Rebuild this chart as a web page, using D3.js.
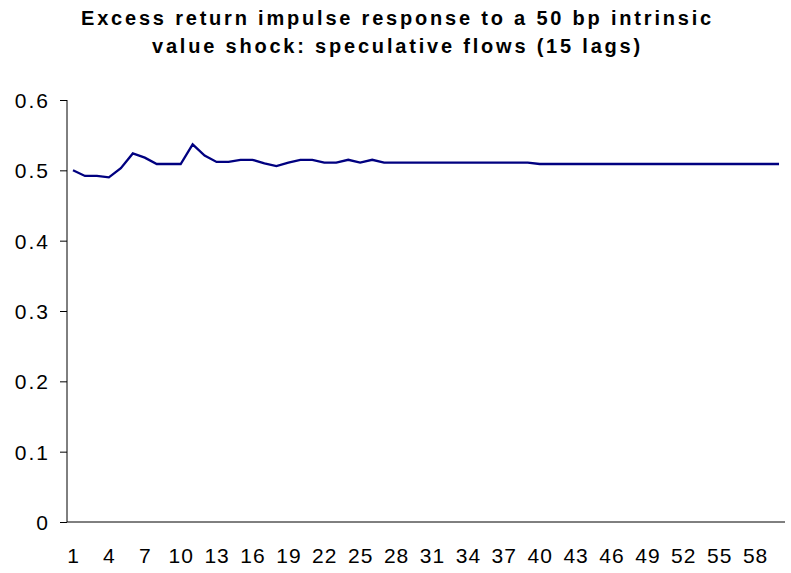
<!DOCTYPE html>
<html>
<head>
<meta charset="utf-8">
<script src="https://cdn.jsdelivr.net/npm/d3@7"></script>
<style>
  body { margin: 0; background: #fff; }
  svg { display: block; font-family: "Liberation Sans", Arial, sans-serif; }
</style>
</head>
<body>
<div id="chart"></div>
<script>
// periods 1..60
var periods = d3.range(1, 61);

// excess return response
var response = [
  0.500, 0.492, 0.492, 0.490, 0.503, 0.524, 0.518, 0.509, 0.509, 0.509,
  0.537, 0.521, 0.512, 0.512, 0.515, 0.515, 0.510, 0.506, 0.511, 0.515,
  0.515, 0.511, 0.511, 0.515, 0.511, 0.515, 0.511, 0.511, 0.511, 0.511,
  0.511, 0.511, 0.511, 0.511, 0.511, 0.511, 0.511, 0.511, 0.511, 0.509,
  0.509, 0.509, 0.509, 0.509, 0.509, 0.509, 0.509, 0.509, 0.509, 0.509,
  0.509, 0.509, 0.509, 0.509, 0.509, 0.509, 0.509, 0.509, 0.509, 0.509
];

var yTicks = [0, 0.1, 0.2, 0.3, 0.4, 0.5, 0.6];
var titleLines = [
  "Excess return impulse response to a 50 bp intrinsic",
  "value shock: speculative flows (15 lags)"
];

var W = 791, H = 573;
var margin = {top: 100, right: 6, bottom: 51, left: 67};
var width = W - margin.left - margin.right,
    height = H - margin.top - margin.bottom;

var svg = d3.select("#chart").append("svg")
    .attr("width", W)
    .attr("height", H);

svg.selectAll(".title")
    .data(titleLines)
    .enter()
    .append("text")
    .attr("class", "title")
    .attr("x", W / 2 + 2)
    .attr("y", function(d, i) { return 25 + i * 28; })
    .attr("text-anchor", "middle")
    .style("font-size", "20px")
    .style("font-weight", "bold")
    .style("letter-spacing", "2.8px")
    .text(function(d) { return d; });

var g = svg.append("g")
    .attr("transform", "translate(" + margin.left + "," + margin.top + ")");

var x = d3.scaleBand()
    .domain(periods)
    .range([0, width]);

var y = d3.scaleLinear()
    .domain([0, 0.6])
    .range([height, 0]);

// y axis
var yAxis = g.append("g")
    .call(d3.axisLeft(y)
      .tickValues(yTicks)
      .tickSize(7)
      .tickPadding(10)
      .tickFormat(function(d) { return d === 0 ? "0" : d3.format(".1f")(d); }));
yAxis.select(".domain").attr("d", "M0," + height + "V0").attr("stroke", "#000");
yAxis.selectAll("text")
    .style("font-size", "21px")
    .style("letter-spacing", "2px")
    .attr("fill", "#000")
    .attr("dy", "0.35em");

// x axis
var xAxis = g.append("g")
    .attr("transform", "translate(0," + height + ")")
    .call(d3.axisBottom(x)
      .tickValues(periods.filter(function(d) { return (d - 1) % 3 === 0; }))
      .tickSize(0)
      .tickPadding(26));
xAxis.select(".domain").attr("d", "M0,0H" + width).attr("stroke", "#000");
xAxis.selectAll("text")
    .style("font-size", "21px")
    .style("letter-spacing", "1px")
    .attr("dx", "0.5px")
    .attr("fill", "#000");

var line = d3.line()
    .x(function(d, i) { return x(periods[i]) + x.bandwidth() / 2; })
    .y(function(d) { return y(d); });

g.append("path")
    .datum(response)
    .attr("fill", "none")
    .attr("stroke", "#000080")
    .attr("stroke-width", 2.3)
    .attr("d", line);
</script>
</body>
</html>
